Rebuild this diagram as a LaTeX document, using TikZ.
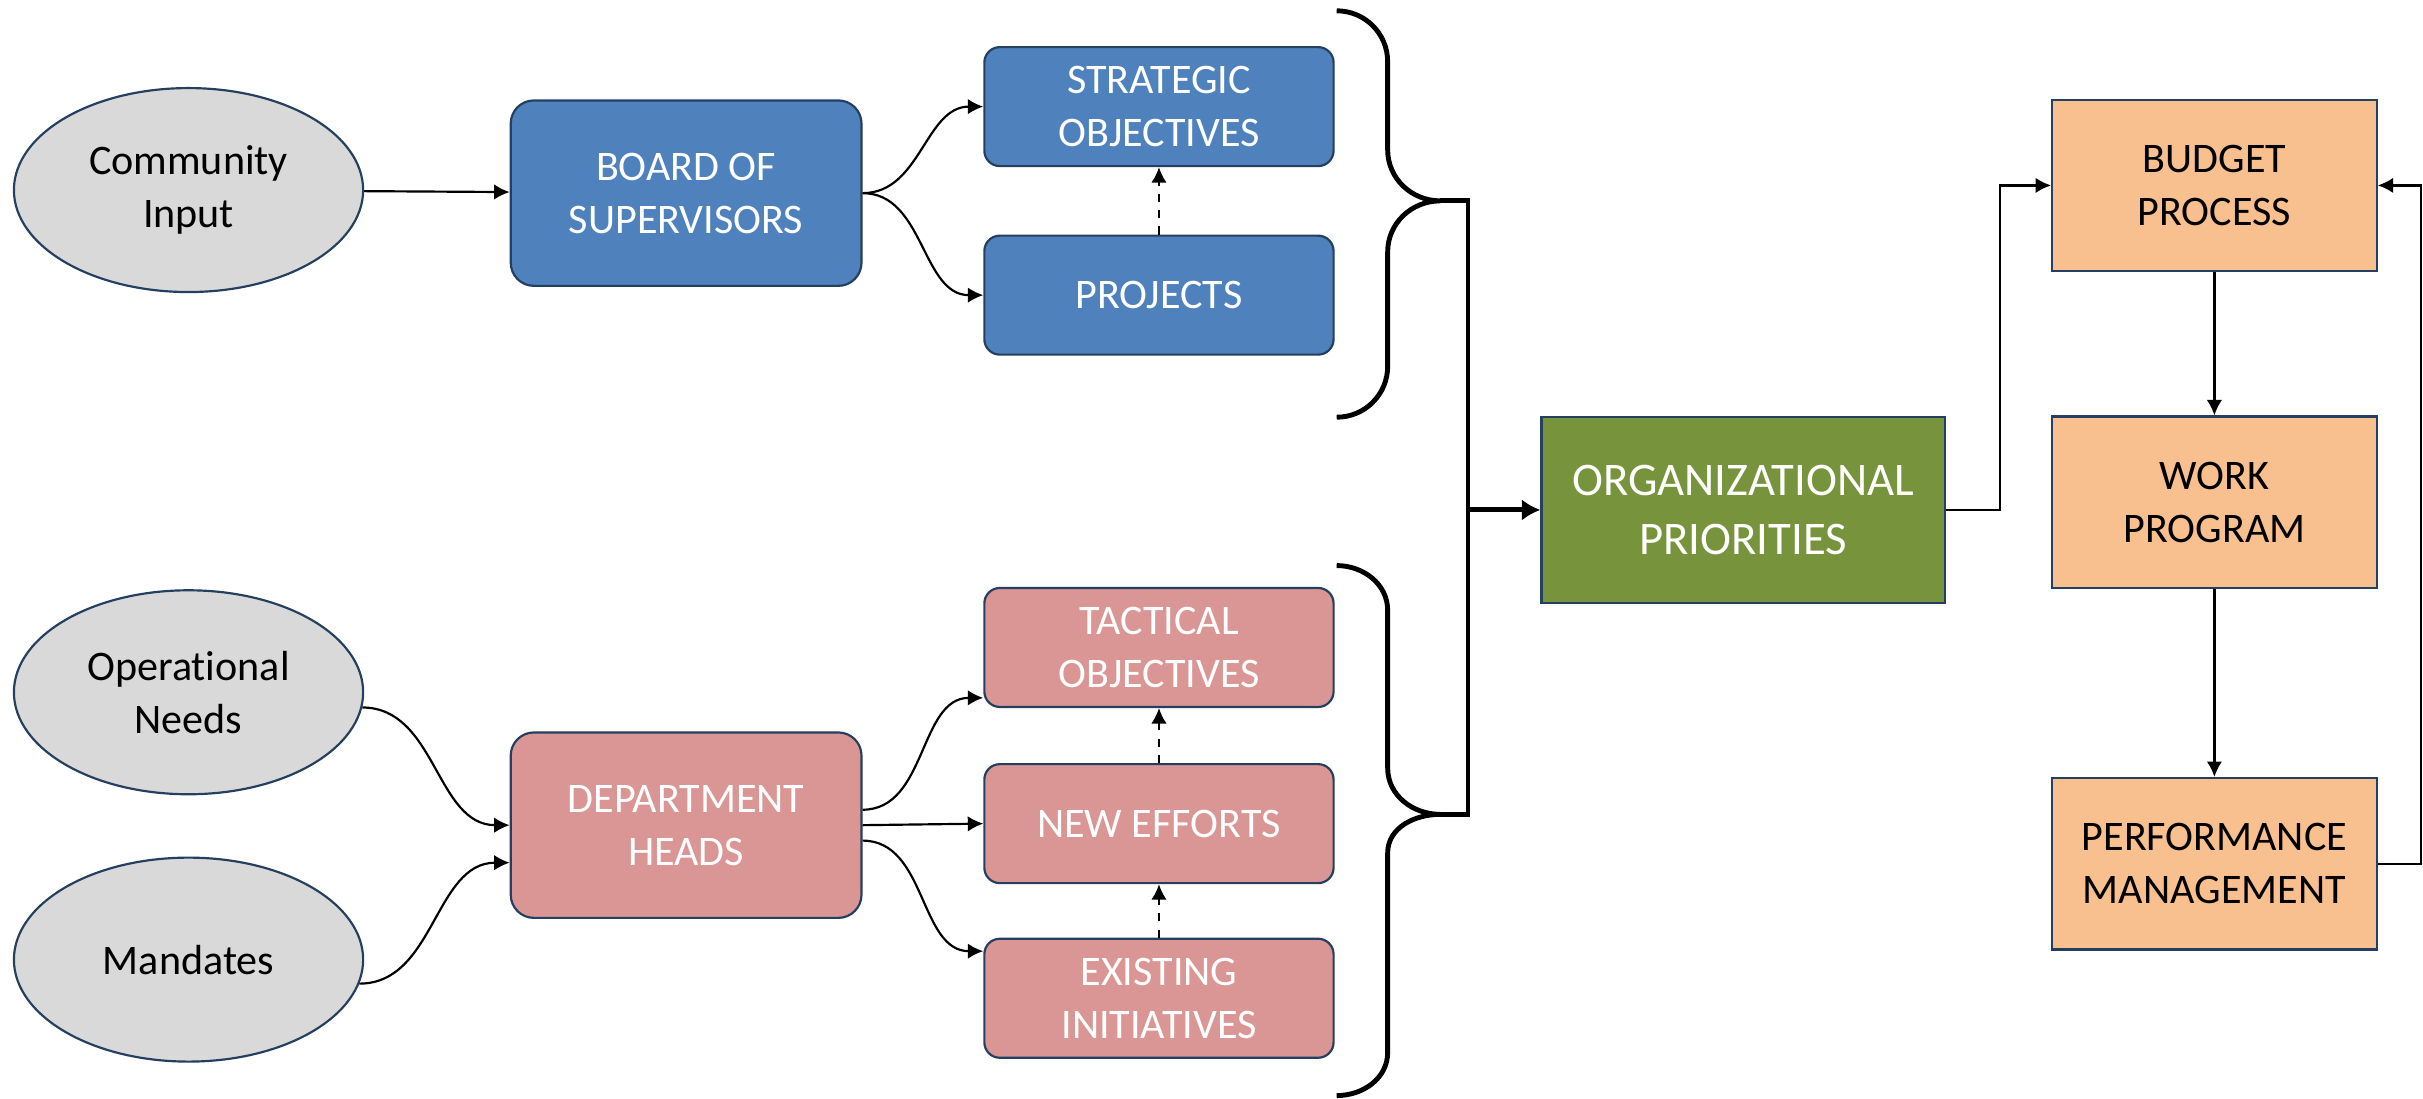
\documentclass[tikz,border=0pt]{standalone}
\usepackage{fontspec}
\setmainfont{Carlito}[Ligatures=NoCommon]
\usetikzlibrary{shapes.geometric,arrows.meta}
\definecolor{edgeblue}{HTML}{243F60}
\definecolor{inputgray}{HTML}{D9D9D9}
\definecolor{boardblue}{HTML}{4F81BD}
\definecolor{deptpink}{HTML}{D99694}
\definecolor{orggreen}{HTML}{77933C}
\definecolor{cycleorange}{HTML}{F9C08F}

\begin{document}
\begin{tikzpicture}[x=0.2mm,y=0.2mm,>={Latex[length=2mm,width=2mm]},
    font=\fontsize{15.5}{19.5}\selectfont,
    source/.style={ellipse,draw=edgeblue,line width=0.8pt,fill=inputgray,minimum width=45.2mm,minimum height=26.4mm,align=center},
    lead/.style={rectangle,rounded corners=3mm,draw=edgeblue,line width=0.8pt,text=white,minimum width=45.4mm,minimum height=24mm,align=center},
    item/.style={rectangle,rounded corners=2mm,draw=edgeblue,line width=0.8pt,text=white,minimum width=45.2mm,minimum height=15.4mm,align=center},
    stage/.style={rectangle,draw=edgeblue,line width=0.8pt,fill=cycleorange,minimum width=42mm,minimum height=22.2mm,align=center},
    link/.style={->,line width=0.8pt},
    brace/.style={line width=1.8pt}]
    \useasboundingbox (0,0) rectangle (1568,711);
    %inputs
    \node[source] (comm) at (122,588) {Community\\Input};
    \node[source] (opn) at (122,263) {Operational\\Needs};
    \node[source] (mand) at (122,90) {Mandates};
    \node[lead,fill=boardblue] (bos) at (444,586) {BOARD OF\\SUPERVISORS};
    \node[lead,fill=deptpink] (dept) at (444,177) {DEPARTMENT\\HEADS};
    \node[item,fill=boardblue] (strat) at (750,642) {STRATEGIC\\OBJECTIVES};
    \node[item,fill=boardblue] (proj) at (750,520) {PROJECTS};
    \node[item,fill=deptpink] (tact) at (750,292) {TACTICAL\\OBJECTIVES};
    \node[item,fill=deptpink] (newe) at (750,178) {NEW EFFORTS};
    \node[item,fill=deptpink] (exist) at (750,65) {EXISTING\\INITIATIVES};
    \node[rectangle,draw=edgeblue,line width=0.8pt,fill=orggreen,text=white,minimum width=52.2mm,minimum height=24mm,align=center,font=\fontsize{17.2}{21.5}\selectfont] (org) at (1128,381) {ORGANIZATIONAL\\PRIORITIES};
    \node[stage] (budget) at (1433,591) {BUDGET\\PROCESS};
    \node[stage] (work) at (1433,386) {WORK\\PROGRAM};
    \node[stage] (perf) at (1433,152) {PERFORMANCE\\MANAGEMENT};
    \draw[link] (comm) -- (bos);
    \draw[link] (bos.east) to[out=0,in=180] (strat.west);
    \draw[link] (bos.east) to[out=0,in=180] (proj.west);
    \draw[link,dashed] (proj) -- (strat);
    \draw[link] (opn.-5) to[out=0,in=180] (dept.west);
    \draw[link] (mand.-8) to[out=0,in=180] (dept.192);
    \draw[link] (dept.5) to[out=0,in=180] (tact.196);
    \draw[link] (dept.east) -- (newe.west);
    \draw[link] (dept.-5) to[out=0,in=180] (exist.165);
    \draw[link,dashed] (newe) -- (tact);
    \draw[link,dashed] (exist) -- (newe);
    %braces
    \coordinate (uptip) at (932,581);
    \coordinate (lowtip) at (932,184);
    \coordinate (join) at (950,381);
    \draw[brace] (865,704) to[out=0,in=90] (898,671) -- (898,614) to[out=-90,in=180] (uptip)
        to[out=180,in=90] (898,548) -- (898,474) to[out=-90,in=0] (865,441);
    \draw[brace] (865,345) to[out=0,in=90] (898,316) -- (898,214) to[out=-90,in=180] (lowtip)
        to[out=180,in=90] (898,159) -- (898,30) to[out=-90,in=0] (865,2);
    \draw[brace] (uptip) -| (join) |- (lowtip);
    \draw[brace,-{Latex[length=2.4mm,width=2.8mm]}] (join) -- (org);
    %cycle
    \draw[link] (org.east) -- ++(35,0) |- (budget);
    \draw[link] (budget) -- (work);
    \draw[link] (work) -- (perf);
    \draw[link] (perf.east) -- ++(28,0) |- (budget.east);
\end{tikzpicture}
\end{document}
